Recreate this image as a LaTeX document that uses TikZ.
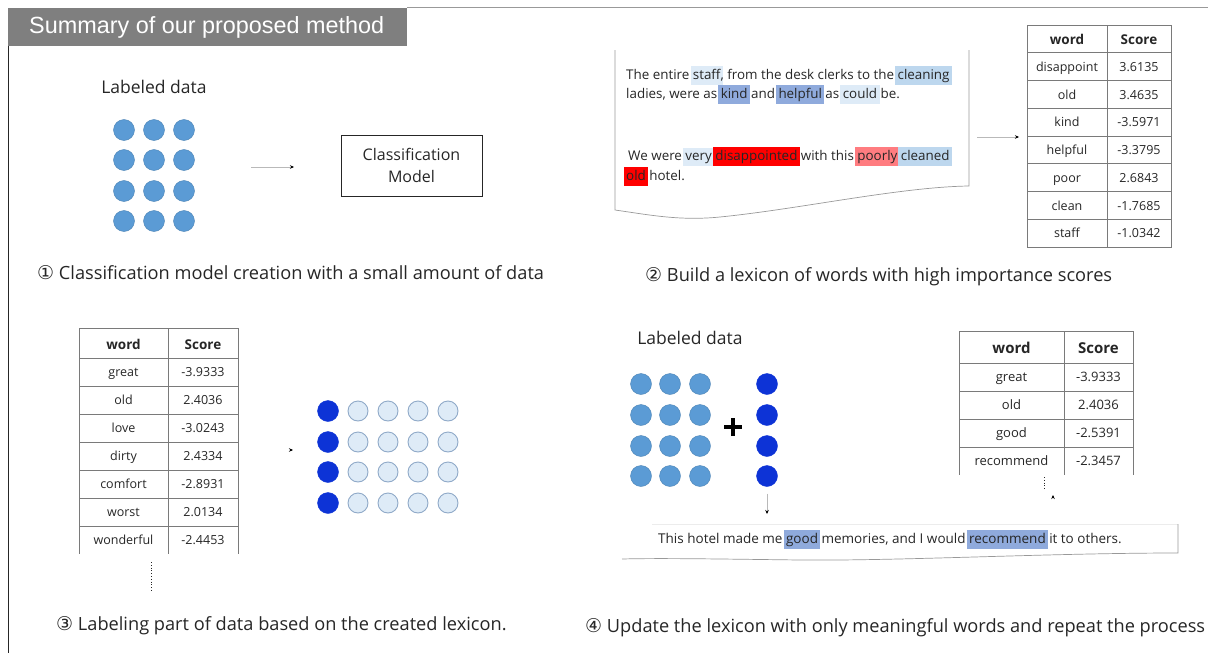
\documentclass[tikz,border=0pt]{standalone}
\usepackage{fontspec}
\setmainfont{Open Sans}
\newfontfamily\titlefont{Liberation Sans}
\newfontfamily\symfont{DejaVu Sans}
\usetikzlibrary{arrows.meta}

\definecolor{titlegray}{HTML}{7F7F7F}
\definecolor{midblue}{HTML}{5B9BD5}
\definecolor{deepblue}{HTML}{0D33D6}
\definecolor{paleblue}{HTML}{DEEBF7}
\definecolor{paleedge}{HTML}{8FA9C8}
\definecolor{lightblue}{HTML}{BDD7EE}
\definecolor{hlblue}{HTML}{8FAADC}
\definecolor{hlred}{HTML}{FF0000}
\definecolor{hlpink}{HTML}{FF7C80}
\definecolor{gridgray}{HTML}{7A7A7A}
\definecolor{ink}{HTML}{262626}

% highlighted word inside running text
\newcommand\hlword[2]{{\setlength{\fboxsep}{2.4pt}\kern-2.4pt\colorbox{#1}{\vphantom{Ayg}#2}\kern-2.4pt}}
\newcommand\circnum[1]{{\symfont\fontsize{19}{20}\selectfont #1}}

\tikzset{
  x=1pt, y=-1pt,
  every node/.style={text=ink},
  dot/.style={circle, minimum size=21pt, inner sep=0pt, fill=midblue, draw=midblue!85!black, line width=0.4pt},
  darkdot/.style={circle, minimum size=21pt, inner sep=0pt, fill=deepblue, draw=deepblue},
  emptydot/.style={circle, minimum size=20pt, inner sep=0pt, fill=paleblue, draw=paleedge, line width=0.9pt},
  caption/.style={anchor=base west, font=\fontsize{18.2}{20}\selectfont, inner sep=0pt},
  heading/.style={font=\fontsize{17.5}{20}\selectfont, inner sep=0pt},
  doctext/.style={anchor=base west, font=\fontsize{13.4}{16}\selectfont, inner sep=0pt},
  cell/.style={anchor=base, font=\fontsize{12.5}{15}\selectfont, inner sep=0pt},
  headcell/.style={anchor=base, font=\fontsize{13.5}{16}\selectfont\bfseries, inner sep=0pt},
  grid/.style={draw=gridgray, line width=0.8pt},
  flow/.style={draw=gray!55, line width=0.5pt, -{Stealth[length=4pt,width=3.5pt,black]}},
  tiptail/.style={draw=white, line width=0.5pt, -{Stealth[length=4pt,width=3.5pt,black]}},
  paperedge/.style={draw=gray!80, line width=0.7pt},
  plusbar/.style={draw=black, line width=4.5pt},
}

\begin{document}
\begin{tikzpicture}
\useasboundingbox (0,0) rectangle (1208,653);

% ---------- frame and title ----------
\draw[draw=gray!80, line width=0.8pt] (407,7) -- (1208,7);
\draw[draw=ink, line width=0.9pt] (8,46) -- (8,653);
\fill[titlegray] (8,8) rectangle (407,46);
\node[anchor=west, inner sep=0pt, text=white, font=\titlefont\fontsize{23.4}{26}\selectfont] (title) at (29,27) {Summary of our proposed method};

% ---------- step 1: classification model ----------
\node[heading] (lab1) at (154,87) {Labeled data};
\foreach \r/\yy in {1/130,2/160,3/191,4/221}
  \foreach \c/\xx in {1/124,2/154,3/184}
    \node[dot] (s1d\r\c) at (\xx,\yy) {};
\coordinate (a1s) at (251,167);
\coordinate (a1e) at (294,167);
\draw[flow] (a1s) -- (a1e);
\node[draw=ink, line width=0.8pt, minimum width=141pt, minimum height=61pt, align=center,
      font=\fontsize{16}{22}\selectfont, inner sep=0pt] (model) at (411.5,165.5) {Classification\\Model};
\node[caption] (cap1) at (37,279) {\circnum{①} Classification model creation with a small amount of data};

% ---------- step 2: scored review text ----------
\draw[paperedge] (615,50) -- (615,210)
  .. controls (650,215) and (680,221) .. (720,217)
  .. controls (800,209) and (900,187) .. (969,186) -- (969,50);
\node[doctext] (l1) at (626,79) {The entire \hlword{paleblue}{staff}, from the desk clerks to the \hlword{lightblue}{cleaning}};
\node[doctext] (l2) at (626,98) {ladies, were as \hlword{hlblue}{kind} and \hlword{hlblue}{helpful} as \hlword{paleblue}{could} be.};
\node[doctext] (l3) at (628,160) {We were \hlword{paleblue}{very }\hlword{hlred}{disappointed} with this \hlword{hlpink}{poorly }\hlword{lightblue}{cleaned}};
\node[doctext] (l4) at (626,180) {\hlword{hlred}{old} hotel.};
\coordinate (a2s) at (977,137);
\coordinate (a2e) at (1019,137);
\draw[flow] (a2s) -- (a2e);

% lexicon table (step 2)
\draw[grid] (1027,25) rectangle (1171,247);
\draw[grid] (1107,25) -- (1107,247);
\foreach \k in {1,...,7} \draw[grid] (1027,25+27.75*\k) -- (1171,25+27.75*\k);
\node[headcell] (t1hw) at (1067,44) {word};
\node[headcell] (t1hs) at (1139,44) {Score};
\foreach \w/\s [count=\i] in {disappoint/3.6135, old/3.4635, kind/-3.5971, helpful/-3.3795, poor/2.6843, clean/-1.7685, staff/-1.0342}{
  \node[cell] (t1w\i) at (1067,43.5+27.75*\i) {\w};
  \node[cell] (t1s\i) at (1139,43.5+27.75*\i) {\s};
}
\node[caption] (cap2) at (645,281) {\circnum{②} Build a lexicon of words with high importance scores};

% ---------- step 3: labeling with the lexicon ----------
\draw[grid] (79,328) -- (238,328);
\foreach \k in {0,...,6} \draw[grid] (79,358+28*\k) -- (238,358+28*\k);
\draw[grid] (79,328) -- (79,554);
\draw[grid] (168,328) -- (168,554);
\draw[grid] (238,328) -- (238,554);
\node[headcell] (t2hw) at (123.5,349) {word};
\node[headcell] (t2hs) at (203,349) {Score};
\foreach \w/\s [count=\i] in {great/-3.9333, old/2.4036, love/-3.0243, dirty/2.4334, comfort/-2.8931, worst/2.0134, wonderful/-2.4453}{
  \node[cell] (t2w\i) at (123.5,348.5+28*\i) {\w};
  \node[cell] (t2s\i) at (203,348.5+28*\i) {\s};
}
\coordinate (d3s) at (151,562);
\coordinate (d3e) at (151,592);
\draw[dotted, line width=0.8pt, draw=ink] (d3s) -- (d3e);
\coordinate (a3s) at (284,450);
\coordinate (a3e) at (293,450);
\draw[tiptail] (a3s) -- (a3e);
\foreach \r/\yy in {1/411,2/442,3/472,4/503}{
  \node[darkdot] (s3d\r1) at (328,\yy) {};
  \foreach \c/\xx in {2/358,3/388,4/418,5/448}
    \node[emptydot] (s3d\r\c) at (\xx,\yy) {};
}
\node[caption] (cap3) at (56,630) {\circnum{③} Labeling part of data based on the created lexicon.};

% ---------- step 4: update the lexicon ----------
\node[heading] (lab4) at (690,338) {Labeled data};
\foreach \r/\yy in {1/384,2/415,3/446,4/476}{
  \foreach \c/\xx in {1/641,2/670,3/700}
    \node[dot] (s4d\r\c) at (\xx,\yy) {};
  \node[darkdot] (s4n\r) at (767,\yy) {};
}
\coordinate (plus) at (733,427);
\draw[plusbar] ([xshift=-9pt]plus) -- ([xshift=9pt]plus);
\draw[plusbar] ([yshift=-9pt]plus) -- ([yshift=9pt]plus);
\coordinate (a4e) at (767,514);
\draw[flow] ([yshift=-7pt]s4n4.south) -- (a4e);

\draw[grid] (959,331) -- (1133,331);
\foreach \k in {0,...,3} \draw[grid] (959,363+28*\k) -- (1133,363+28*\k);
\draw[grid] (959,331) -- (959,475);
\draw[grid] (1064,331) -- (1064,475);
\draw[grid] (1133,331) -- (1133,475);
\node[headcell, font=\fontsize{15}{17}\selectfont\bfseries] (t3hw) at (1011.5,353) {word};
\node[headcell, font=\fontsize{15}{17}\selectfont\bfseries] (t3hs) at (1098.5,353) {Score};
\foreach \w/\s [count=\i] in {great/-3.9333, old/2.4036, good/-2.5391, recommend/-2.3457}{
  \node[cell, font=\fontsize{13}{15}\selectfont] (t3w\i) at (1011.5,353.5+28*\i) {\w};
  \node[cell, font=\fontsize{13}{15}\selectfont] (t3s\i) at (1098.5,353.5+28*\i) {\s};
}
\coordinate (d4s) at (1044,477);
\coordinate (d4e) at (1044,490);
\draw[dotted, line width=0.8pt, draw=ink] (d4s) -- (d4e);
\coordinate (a4ts) at (1053,506);
\coordinate (a4te) at (1053,495);
\draw[tiptail] (a4ts) -- (a4te);

\draw[draw=gray!15, line width=0.6pt] (652,524) -- (1178,524);
\draw[paperedge] (1178,524) -- (1178,553)
  .. controls (1050,553) and (900,561) .. (800,560)
  .. controls (720,559) and (660,558) .. (622,559);
\node[doctext, font=\fontsize{13.5}{16}\selectfont] (sent) at (658,543) {This hotel made me \hlword{hlblue}{good} memories, and I would \hlword{hlblue}{recommend} it to others.};
\node[caption] (cap4) at (585,632) {\circnum{④} Update the lexicon with only meaningful words and repeat the process};
\end{tikzpicture}
\end{document}
